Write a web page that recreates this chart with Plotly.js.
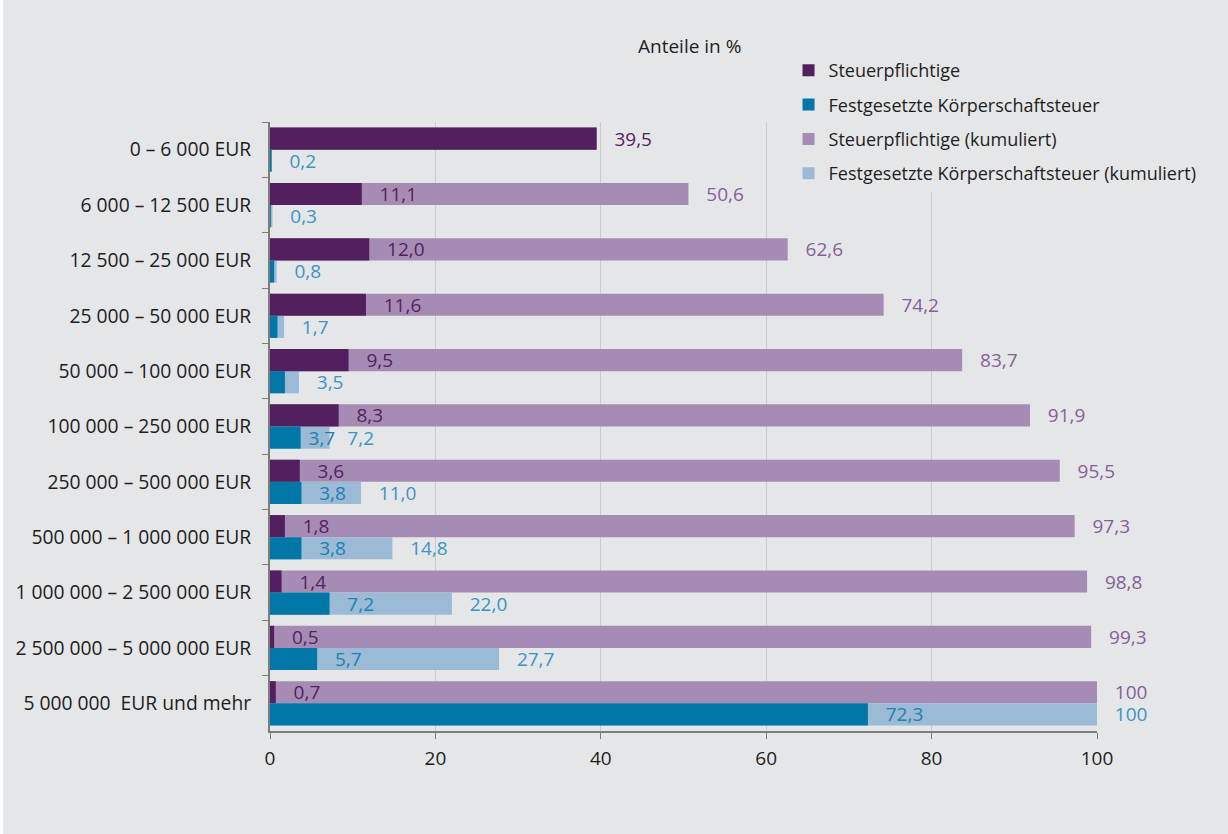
<!DOCTYPE html>
<html>
<head>
<meta charset="utf-8">
<script src="https://cdn.plot.ly/plotly-3.0.1.min.js"></script>
<style>
  html, body { margin: 0; padding: 0; background: #ffffff; }
  #chart { position: absolute; left: 3px; top: 0; width: 1225px; height: 834px; }
</style>
</head>
<body>
<div id="chart"></div>
<script>
// ---- Data ----
const categories = [
  '0 – 6 000 EUR',
  '6 000 – 12 500 EUR',
  '12 500 – 25 000 EUR',
  '25 000 – 50 000 EUR',
  '50 000 – 100 000 EUR',
  '100 000 – 250 000 EUR',
  '250 000 – 500 000 EUR',
  '500 000 – 1 000 000 EUR',
  '1 000 000 – 2 500 000 EUR',
  '2 500 000 – 5 000 000 EUR',
  '5 000 000  EUR und mehr'
];
const steuerpflichtige      = [39.5, 11.1, 12.0, 11.6, 9.5, 8.3, 3.6, 1.8, 1.4, 0.5, 0.7];
const steuerpflichtigeKum   = [39.5, 50.6, 62.6, 74.2, 83.7, 91.9, 95.5, 97.3, 98.8, 99.3, 100];
const koerperschaftsteuer    = [0.2, 0.1, 0.5, 0.9, 1.8, 3.7, 3.8, 3.8, 7.2, 5.7, 72.3];
const koerperschaftsteuerKum = [0.2, 0.3, 0.8, 1.7, 3.5, 7.2, 11.0, 14.8, 22.0, 27.7, 100];
// which value labels are printed in the original
const showKstShare   = [false, false, false, false, false, true, true, true, true, true, true];
const showStpfKum    = [false, true, true, true, true, true, true, true, true, true, true];
const xTicks = [0, 20, 40, 60, 80, 100];

// ---- Helpers ----
const fmt = v => (v >= 100 ? '100' : v.toFixed(1).replace('.', ','));
const pad = (ind, cum) => (cum - ind > 0 && cum - ind < 4) ? ' ' : '   ';

const C = {
  darkPurple: '#53205f',
  lightPurple: '#a68cb4',
  darkBlue: '#0077a6',
  lightBlue: '#9bbad6',
  txtDarkPurple: '#54215f',
  txtLightPurple: '#86609a',
  txtDarkBlue: '#2180b2',
  txtLightBlue: '#3b94c4',
  bg: '#e5e6e8'
};
const FONT = '"Open Sans", "Noto Sans", sans-serif';
const LBL = 19;

const common = {
  type: 'bar', orientation: 'h', y: categories, width: 0.4,
  textposition: 'outside', cliponaxis: false, constraintext: 'none',
  hoverinfo: 'skip', marker: { line: { width: 0 } }
};

const traces = [
  Object.assign({}, common, {
    name: 'Steuerpflichtige (kumuliert)', x: steuerpflichtigeKum, offset: -0.4,
    marker: { color: C.lightPurple, line: { width: 0 } },
    text: steuerpflichtigeKum.map((v, i) => showStpfKum[i] ? '   ' + fmt(v) : ''),
    textfont: { color: C.txtLightPurple, size: LBL, family: FONT },
    legendgroup: 'c', legendrank: 3
  }),
  Object.assign({}, common, {
    name: 'Festgesetzte Körperschaftsteuer (kumuliert)', x: koerperschaftsteuerKum, offset: 0,
    marker: { color: C.lightBlue, line: { width: 0 } },
    text: koerperschaftsteuerKum.map(v => '   ' + fmt(v)),
    textfont: { color: C.txtLightBlue, size: LBL, family: FONT },
    legendgroup: 'd', legendrank: 4
  }),
  Object.assign({}, common, {
    name: 'Steuerpflichtige', x: steuerpflichtige, offset: -0.4,
    marker: { color: C.darkPurple, line: { width: 0 } },
    text: steuerpflichtige.map((v, i) => pad(v, steuerpflichtigeKum[i]) + fmt(v)),
    textfont: { color: C.txtDarkPurple, size: LBL, family: FONT },
    legendgroup: 'a', legendrank: 1
  }),
  Object.assign({}, common, {
    name: 'Festgesetzte Körperschaftsteuer', x: koerperschaftsteuer, offset: 0,
    marker: { color: C.darkBlue, line: { width: 0 } },
    text: koerperschaftsteuer.map((v, i) => showKstShare[i] ? pad(v, koerperschaftsteuerKum[i]) + fmt(v) : ''),
    textfont: { color: C.txtDarkBlue, size: LBL, family: FONT },
    legendgroup: 'b', legendrank: 2
  })
];

const layout = {
  width: 1225, height: 834,
  paper_bgcolor: C.bg, plot_bgcolor: C.bg,
  font: { family: FONT, size: 18, color: '#1e1e1e' },
  margin: { l: 267, r: 131, t: 122, b: 103 },
  barmode: 'overlay',
  showlegend: true,
  legend: {
    x: 0.627, xanchor: 'left', y: 1.115, yanchor: 'top',
    bgcolor: C.bg, borderwidth: 0,
    traceorder: 'grouped', tracegroupgap: 8,
    font: { size: 18, color: '#1e1e1e', family: FONT }
  },
  xaxis: {
    range: [0, 100], tickvals: xTicks, ticktext: xTicks.map(String),
    showgrid: true, gridcolor: '#c9cacd', gridwidth: 1,
    zeroline: false, showline: true, linecolor: '#7d7d7d', linewidth: 2,
    ticks: 'outside', ticklen: 6, tickcolor: '#7d7d7d', tickwidth: 1,
    ticklabelstandoff: 3,
    tickfont: { size: 19, color: '#1e1e1e' }, fixedrange: true
  },
  yaxis: {
    type: 'category', autorange: 'reversed',
    showgrid: false, zeroline: false, showline: true, linecolor: '#7d7d7d', linewidth: 2,
    ticks: 'outside', tickson: 'boundaries', ticklen: 6, tickcolor: '#7d7d7d', tickwidth: 1,
    ticklabelstandoff: 13,
    tickfont: { size: 19.3, color: '#1e1e1e' }, fixedrange: true
  },
  annotations: [{
    text: 'Anteile in %', xref: 'paper', yref: 'paper',
    x: 0.5067, y: 1.1248, xanchor: 'center', yanchor: 'middle',
    showarrow: false, font: { size: 19, color: '#1e1e1e', family: FONT }
  }]
};

Plotly.newPlot('chart', traces, layout, { staticPlot: true, displayModeBar: false });
</script>
</body>
</html>
